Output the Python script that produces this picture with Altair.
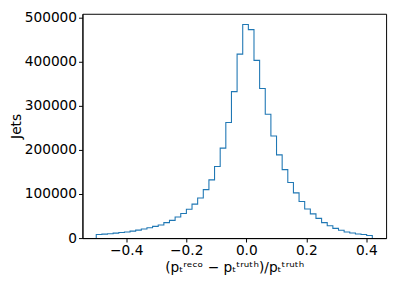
import altair as alt
import numpy as np
import pandas as pd

# Histogram bin counts (49 bins between -0.5 and 0.42)
counts = [8000, 9000, 10000, 11200, 12500, 14000, 15800, 18000, 20500, 23500,
          26500, 29500, 35100, 40200, 47600, 55600, 65200, 76900, 90700, 109800,
          131800, 162000, 203700, 261800, 331700, 416600, 483800, 472100, 402500, 338800,
          280400, 231200, 188500, 155000, 125800, 102500, 82800, 66000, 54900, 44600,
          35100, 27900, 22000, 17600, 13900, 11700, 9400, 8100, 6000]
x_range = [-0.5, 0.42]
x_ticks = [-0.4, -0.2, 0.0, 0.2, 0.4]
y_ticks = [0, 100000, 200000, 300000, 400000, 500000]

n = len(counts)
edges = np.linspace(x_range[0], x_range[1], n + 1)
xs = [edges[0]] + list(edges[:-1]) + [edges[-1]]
ys = [0] + counts + [0]
df = pd.DataFrame({"x": xs, "y": ys, "i": list(range(len(xs)))})

x_title = "(pₜʳᵉᶜᵒ − pₜᵗʳᵘᵗʰ)/pₜᵗʳᵘᵗʰ"

chart = alt.Chart(df).mark_line(
    interpolate="step-after", color="#1f77b4", strokeWidth=1.1
).encode(
    x=alt.X("x:Q",
            scale=alt.Scale(domain=[-0.546, 0.466], nice=False, zero=False),
            axis=alt.Axis(values=x_ticks, format=".1f",
                          labelExpr="replace(datum.label, '-', '−')",
                          title=x_title, titlePadding=3)),
    y=alt.Y("y:Q",
            scale=alt.Scale(domain=[0, 508000], nice=False),
            axis=alt.Axis(values=y_ticks, format="d", title="Jets", titlePadding=1)),
    order="i:Q",
).properties(
    width=310, height=229,
    padding={"left": 76, "top": 3, "right": 5, "bottom": 46},
    autosize="none",
).configure_view(
    stroke="black", strokeWidth=1
).configure_axis(
    grid=False,
    labelFont="DejaVu Sans", labelFontSize=14, labelColor="black",
    titleFont="DejaVu Sans", titleFontSize=14, titleFontWeight="normal", titleColor="black",
    tickColor="black", domainColor="black", tickSize=4, labelPadding=2,
)

chart.save("out.html", embed_options={"renderer": "svg", "actions": False})
